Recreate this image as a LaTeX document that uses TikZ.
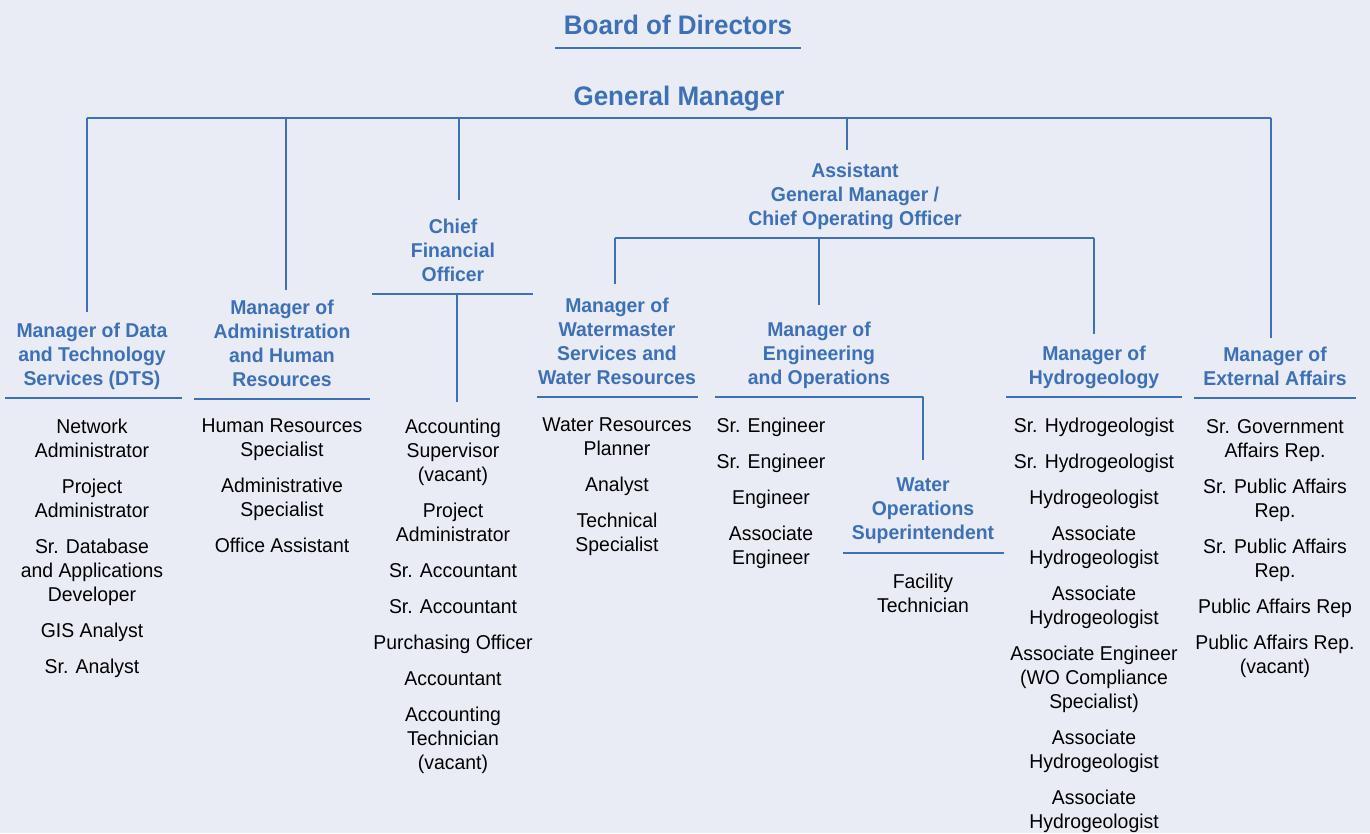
\documentclass[tikz,border=0pt]{standalone}
\usepackage{fontspec}
\setmainfont[FakeStretch=0.97]{Liberation Sans}
\definecolor{orgblue}{RGB}{61,112,181}
\definecolor{paper}{RGB}{233,236,245}
\tikzset{
	head/.style={font=\bfseries\fontsize{20}{24}\selectfont, text=orgblue, align=center, anchor=north, inner sep=0pt},
	title/.style={font=\bfseries\fontsize{26.8}{30}\selectfont, text=orgblue, anchor=north, inner sep=0pt},
	staff/.style={font=\fontsize{20}{24}\selectfont, align=center, anchor=north, inner sep=0pt},
	link/.style={draw=orgblue, line width=1.3pt}
}
\begin{document}
\begin{tikzpicture}[x=1pt,y=-1pt, line join=round]
		\fill[paper] (0,0) rectangle (1370,833);
		\useasboundingbox (0,0) rectangle (1370,833);
		\def\sep{\\[12pt]} % gap between two jobs
		% top of the tree
		\node[title] (board) at (678,15) {Board of Directors};
		\node[title] (gm) at (679,86) {General Manager};
		\draw[link] (555,48) -- (801,48);
		% managers
		\node[head] (dts) at (92,323) {Manager of Data\\and Technology\\Services (DTS)};
		\node[head] (admin) at (282,300) {Manager of\\Administration\\and Human\\Resources};
		\node[head] (cfo) at (453,219) {Chief\\Financial\\Officer};
		\node[head] (agm) at (855,163) {Assistant\\General Manager /\\Chief Operating Officer};
		\node[head] (wms) at (617,298) {Manager of\\Watermaster\\Services and\\Water Resources};
		\node[head] (eng) at (819,322) {Manager of\\Engineering\\and Operations};
		\node[head] (wos) at (923,478) {Water\\Operations\\Superintendent};
		\node[head] (hyd) at (1094,346) {Manager of\\Hydrogeology};
		\node[head] (ext) at (1275,347) {Manager of\\External Affairs};
		% staff under each manager
		\node[staff] (dtsstaff) at (92,419) {Network\\Administrator\sep Project\\Administrator\sep Sr. Database\\and Applications\\Developer\sep GIS Analyst\sep Sr. Analyst};
		\node[staff] (adminstaff) at (282,419) {Human Resources\\Specialist\sep Administrative\\Specialist\sep Office Assistant};
		\node[staff] (cfostaff) at (453,419) {Accounting\\Supervisor\\(vacant)\sep Project\\Administrator\sep Sr. Accountant\sep Sr. Accountant\sep Purchasing Officer\sep Accountant\sep Accounting\\Technician\\(vacant)};
		\node[staff] (wmsstaff) at (617,418) {Water Resources\\Planner\sep Analyst\sep Technical\\Specialist};
		\node[staff] (engstaff) at (771,418) {Sr. Engineer\sep Sr. Engineer\sep Engineer\sep Associate\\Engineer};
		\node[staff] (wosstaff) at (923,574) {Facility\\Technician};
		\node[staff] (hydstaff) at (1094,418) {Sr. Hydrogeologist\sep Sr. Hydrogeologist\sep Hydrogeologist\sep Associate\\Hydrogeologist\sep Associate\\Hydrogeologist\sep Associate Engineer\\(WO Compliance\\Specialist)\sep Associate\\Hydrogeologist\sep Associate\\Hydrogeologist};
		\node[staff] (extstaff) at (1275,419) {Sr. Government\\Affairs Rep.\sep Sr. Public Affairs\\Rep.\sep Sr. Public Affairs\\Rep.\sep Public Affairs Rep\sep Public Affairs Rep.\\(vacant)};
		% reporting lines
		\coordinate (gm-l) at (87,118); \coordinate (gm-r) at (1271,118);
		\draw[link] (gm-l) -- (gm-r);
		\foreach \n/\x/\g in {dts/87/11, admin/286/10, cfo/459/19, agm/847/13, ext/1271/9}
			\draw[link] (\x,118) -- ([yshift=\g pt]\x,0 |- \n.north);
		\coordinate (agm-l) at (615,238); \coordinate (agm-r) at (1094,238);
		\draw[link] (agm-l) -- (agm-r);
		\foreach \n/\x/\g in {wms/615/14, eng/819/17, hyd/1094/12}
			\draw[link] (\x,238) -- ([yshift=\g pt]\x,0 |- \n.north);
		\draw[link] (372,294) -- (533,294);
		\draw[link] (457,294) -- ([yshift=17pt]457,0 |- cfostaff.north);
		\draw[link] (715,397) -| ([yshift=18pt]wos.north);
		% rules under the headings
		\draw[link] (5,398) -- (182,398);
		\draw[link] (194,399) -- (370,399);
		\draw[link] (537,397) -- (698,397);
		\draw[link] (843,553) -- (1004,553);
		\draw[link] (1006,397) -- (1182,397);
		\draw[link] (1194,398) -- (1356,398);
\end{tikzpicture}
\end{document}
